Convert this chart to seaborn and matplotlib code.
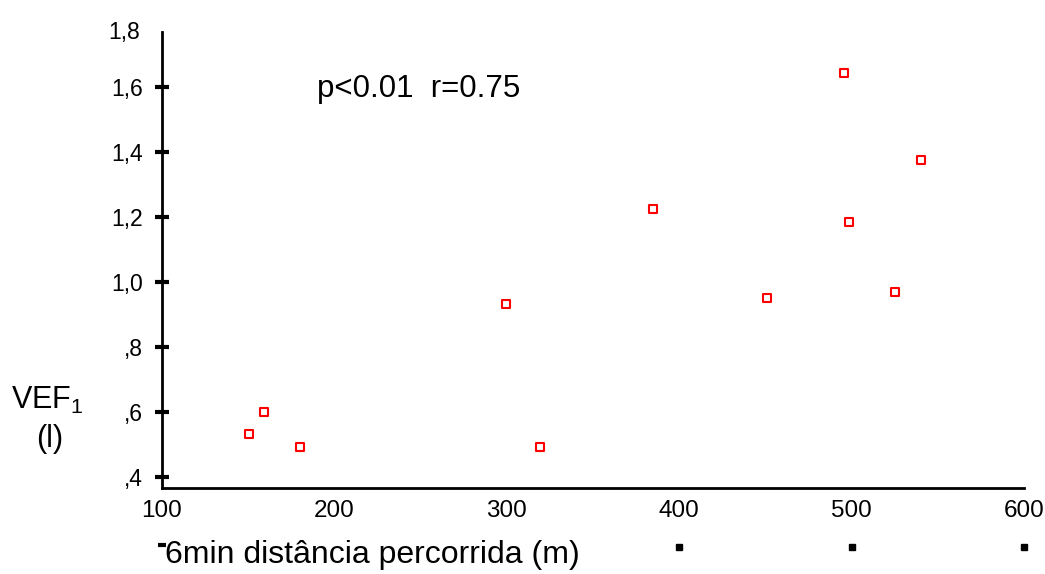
import matplotlib
matplotlib.use("Agg")
import matplotlib.pyplot as plt
import matplotlib.transforms as mtransforms
import seaborn as sns
import pandas as pd

# Data
distance_m = [150.5, 159.2, 180.1, 299.8, 319.5, 384.6, 450.8, 495.5, 498.4, 525.1, 540.2]
vef1_l = [0.532, 0.600, 0.492, 0.932, 0.492, 1.225, 0.951, 1.643, 1.185, 0.969, 1.375]

xticks = [100, 200, 300, 400, 500, 600]
xtick_labels = ["100", "200", "300", "400", "500", "600"]
yticks = [0.4, 0.6, 0.8, 1.0, 1.2, 1.4, 1.6]
ytick_labels = [",4", ",6", ",8", "1,0", "1,2", "1,4", "1,6"]
annotation = "p<0.01  r=0.75"
xlabel = "6min distância percorrida (m)"

df = pd.DataFrame({"dist": distance_m, "vef": vef1_l})

sns.set_style("white")
plt.rcParams["font.family"] = ["Liberation Sans", "DejaVu Sans"]
plt.rcParams["mathtext.fontset"] = "custom"
plt.rcParams["mathtext.rm"] = "Liberation Sans"
plt.rcParams["text.color"] = "black"
plt.rcParams["xtick.color"] = "black"
plt.rcParams["ytick.color"] = "black"
plt.rcParams["axes.labelcolor"] = "black"

fig = plt.figure(figsize=(10.45, 5.74), dpi=100)
ax = fig.add_axes([0.155, 0.150, 0.825, 0.794])

sns.scatterplot(data=df, x="dist", y="vef", ax=ax, marker="s", s=40,
                facecolor="white", edgecolor="#ff0000", linewidth=1.5, zorder=3)

ax.set_xlim(100, 600)
ax.set_ylim(0.366, 1.769)
ax.set_xticks(xticks)
ax.set_xticklabels(xtick_labels, fontsize=17.5)
ax.set_yticks(yticks)
ax.set_yticklabels(ytick_labels, fontsize=16.5)
ax.tick_params(axis="x", bottom=False, length=0, pad=9)
ax.tick_params(axis="y", left=True, direction="inout", length=10, width=3,
               color="black", pad=9)
ax.set_xlabel("")
ax.set_ylabel("")

for side in ["top", "right"]:
    ax.spines[side].set_visible(False)
for side in ["left", "bottom"]:
    ax.spines[side].set_linewidth(2)
    ax.spines[side].set_color("black")

# top label 1,8 at spine end
ax.text(-0.025, 1.0, "1,8", transform=ax.transAxes, ha="right", va="center", fontsize=16.5)

ax.text(190, 1.595, annotation, fontsize=22.5, ha="left", va="center", zorder=4)

# small tick stubs below the labels
trans = mtransforms.blended_transform_factory(ax.transData, ax.transAxes)
ax.plot([400, 500, 600], [-0.129] * 3, linestyle="none", marker="s", markersize=4,
        color="black", transform=trans, clip_on=False)
ax.plot([100], [-0.125], linestyle="none", marker="_", markersize=6, markeredgewidth=3,
        color="black", transform=trans, clip_on=False)

fig.text(0.158, 0.033, xlabel, fontsize=23, ha="left", va="center")
fig.text(0.045, 0.302, "VEF$_1$", fontsize=22, ha="center", va="center")
fig.text(0.048, 0.236, "(l)", fontsize=22, ha="center", va="center")

fig.savefig("out.png", dpi=100)
